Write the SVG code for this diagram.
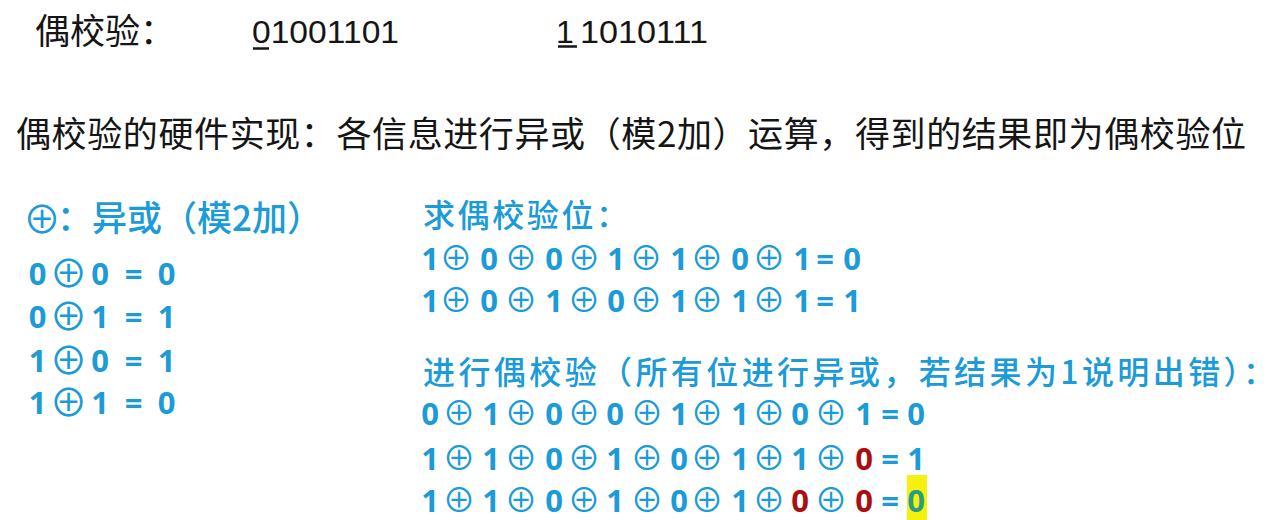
<svg xmlns="http://www.w3.org/2000/svg" width="1279" height="520" viewBox="0 0 1279 520">
<style>
.k{font-family:"Noto Sans CJK SC","Noto Sans",sans-serif;fill:#151515}
.m{font-family:"Liberation Sans",Arial,sans-serif;fill:#151515;font-size:32px}
.b{font-family:"Noto Sans CJK SC","Noto Sans",sans-serif;fill:#1b9bd7;font-weight:500}
.n{font-family:"Noto Sans","Noto Sans CJK SC",sans-serif;font-weight:bold;font-size:31px;fill:#1b9bd7;text-anchor:middle}
.o{font-family:"Noto Sans CJK SC","DejaVu Sans",sans-serif;font-weight:400;font-size:33px}
.ol{font-family:"Noto Sans CJK SC","DejaVu Sans",sans-serif;font-weight:400;font-size:38px}
.r{fill:#a81010}
.g{fill:#2a9c86}
</style>
<rect width="1279" height="520" fill="#ffffff"/>
<g id="title">
<text class="k" x="35" y="44" font-size="35">偶校验：</text>
<text class="m" x="252" y="43" textLength="147" lengthAdjust="spacingAndGlyphs">01001101</text>
<line x1="253" y1="48.5" x2="269" y2="48.5" stroke="#151515" stroke-width="2.5"/>
<text class="m" x="556" y="43">1</text>
<line x1="558" y1="46.5" x2="577" y2="46.5" stroke="#151515" stroke-width="2.5"/>
<text class="m" x="580" y="43" textLength="128" lengthAdjust="spacingAndGlyphs">1010111</text>
</g>
<g id="hardware">
<text class="k" x="16" y="147" font-size="35" textLength="1230" lengthAdjust="spacing">偶校验的硬件实现：各信息进行异或（模2加）运算，得到的结果即为偶校验位</text>
</g>
<g id="xor-table">
<text class="b" y="231" font-size="35"><tspan class="ol" x="23" y="233">⊕</tspan><tspan x="57" y="231">：</tspan><tspan x="92">异或（模2加）</tspan></text>
<text class="n" y="285"><tspan x="37.5">0</tspan><tspan class="ol" x="68.5" y="287">⊕</tspan><tspan x="100" y="285">0</tspan><tspan x="133.5">=</tspan><tspan x="166.5">0</tspan></text>
<text class="n" y="328"><tspan x="37.5">0</tspan><tspan class="ol" x="68.5" y="330">⊕</tspan><tspan x="100" y="328">1</tspan><tspan x="133.5">=</tspan><tspan x="166.5">1</tspan></text>
<text class="n" y="372"><tspan x="37.5">1</tspan><tspan class="ol" x="68.5" y="374">⊕</tspan><tspan x="100" y="372">0</tspan><tspan x="133.5">=</tspan><tspan x="166.5">1</tspan></text>
<text class="n" y="414"><tspan x="37.5">1</tspan><tspan class="ol" x="68.5" y="416">⊕</tspan><tspan x="100" y="414">1</tspan><tspan x="133.5">=</tspan><tspan x="166.5">0</tspan></text>
</g>
<g id="find-parity">
<text class="b" x="423" y="227" font-size="32" textLength="205" lengthAdjust="spacing">求偶校验位：</text>
<text class="n" y="270"><tspan x="430">1</tspan><tspan class="o" x="456">⊕</tspan><tspan x="489">0</tspan><tspan class="o" x="521">⊕</tspan><tspan x="554">0</tspan><tspan class="o" x="584">⊕</tspan><tspan x="616">1</tspan><tspan class="o" x="646">⊕</tspan><tspan x="679">1</tspan><tspan class="o" x="707">⊕</tspan><tspan x="740">0</tspan><tspan class="o" x="769">⊕</tspan><tspan x="802">1</tspan><tspan x="825">=</tspan><tspan x="852">0</tspan></text>
<text class="n" y="312"><tspan x="430">1</tspan><tspan class="o" x="456">⊕</tspan><tspan x="489">0</tspan><tspan class="o" x="521">⊕</tspan><tspan x="554">1</tspan><tspan class="o" x="584">⊕</tspan><tspan x="616">0</tspan><tspan class="o" x="646">⊕</tspan><tspan x="679">1</tspan><tspan class="o" x="707">⊕</tspan><tspan x="740">1</tspan><tspan class="o" x="769">⊕</tspan><tspan x="802">1</tspan><tspan x="825">=</tspan><tspan x="852">1</tspan></text>
</g>
<g id="check-parity">
<text class="b" x="423" y="384" font-size="32" textLength="852" lengthAdjust="spacing">进行偶校验（所有位进行异或，若结果为1说明出错）：</text>
<text class="n" y="425"><tspan x="430">0</tspan><tspan class="o" x="459">⊕</tspan><tspan x="491">1</tspan><tspan class="o" x="521">⊕</tspan><tspan x="554">0</tspan><tspan class="o" x="584">⊕</tspan><tspan x="615">0</tspan><tspan class="o" x="647">⊕</tspan><tspan x="679">1</tspan><tspan class="o" x="707">⊕</tspan><tspan x="740">1</tspan><tspan class="o" x="769">⊕</tspan><tspan x="800">0</tspan><tspan class="o" x="831">⊕</tspan><tspan x="864">1</tspan><tspan x="890">=</tspan><tspan x="916">0</tspan></text>
<text class="n" y="470"><tspan x="430">1</tspan><tspan class="o" x="459">⊕</tspan><tspan x="491">1</tspan><tspan class="o" x="521">⊕</tspan><tspan x="554">0</tspan><tspan class="o" x="584">⊕</tspan><tspan x="615">1</tspan><tspan class="o" x="647">⊕</tspan><tspan x="679">0</tspan><tspan class="o" x="707">⊕</tspan><tspan x="740">1</tspan><tspan class="o" x="769">⊕</tspan><tspan x="800">1</tspan><tspan class="o" x="831">⊕</tspan><tspan class="r" x="864">0</tspan><tspan x="890">=</tspan><tspan x="916">1</tspan></text>
<rect x="907" y="475" width="20" height="45" fill="#f4f20c"/>
<text class="n" y="512"><tspan x="430">1</tspan><tspan class="o" x="459">⊕</tspan><tspan x="491">1</tspan><tspan class="o" x="521">⊕</tspan><tspan x="554">0</tspan><tspan class="o" x="584">⊕</tspan><tspan x="615">1</tspan><tspan class="o" x="647">⊕</tspan><tspan x="679">0</tspan><tspan class="o" x="707">⊕</tspan><tspan x="740">1</tspan><tspan class="o" x="769">⊕</tspan><tspan class="r" x="800">0</tspan><tspan class="o" x="831">⊕</tspan><tspan class="r" x="864">0</tspan><tspan x="890">=</tspan><tspan class="g" x="916">0</tspan></text>
</g>
</svg>
